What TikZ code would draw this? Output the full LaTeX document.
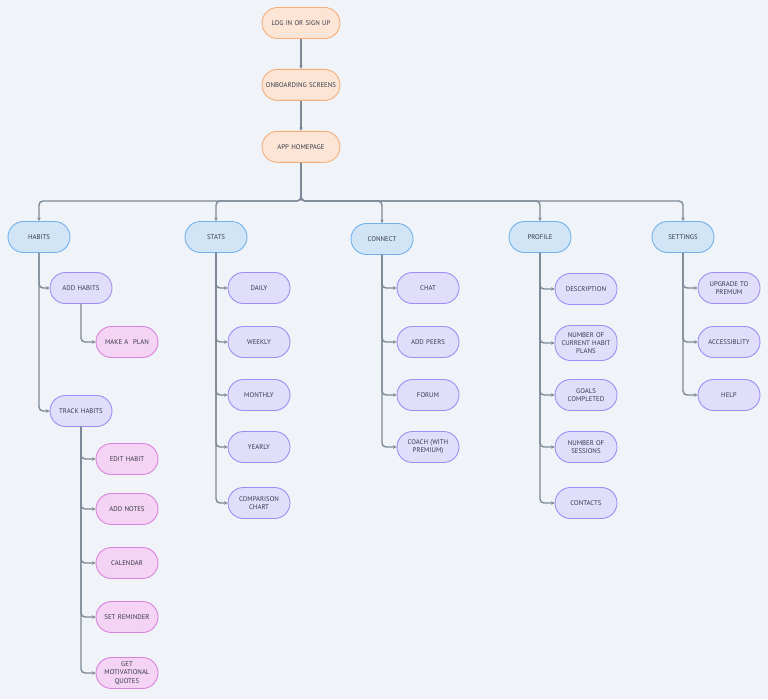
\documentclass[tikz,border=0pt]{standalone}
\usepackage{fontspec}
\setmainfont{PT Sans}
\usetikzlibrary{arrows.meta,positioning}

\definecolor{bgcol}{HTML}{F0F3F7}
\definecolor{orfill}{HTML}{FDE5D6}
\definecolor{orline}{HTML}{F4AE7A}
\definecolor{blfill}{HTML}{D2E5F7}
\definecolor{blline}{HTML}{72B2EC}
\definecolor{pufill}{HTML}{E1DEFC}
\definecolor{puline}{HTML}{9E8DF2}
\definecolor{pifill}{HTML}{F4D3F4}
\definecolor{piline}{HTML}{D883DC}
\definecolor{lncol}{HTML}{7D8996}
\definecolor{txcol}{HTML}{353B48}

\begin{document}
\begin{tikzpicture}[
x=1pt, y=-1pt,
pill/.style={
    draw,
    line width=0.9pt,
    rounded corners=15.5pt,
    minimum width=62pt,
    minimum height=31pt,
    text width=56pt,
    align=center,
    inner sep=1pt,
    text=txcol,
    font=\fontsize{6.8}{8.2}\selectfont
    },
flowbox/.style={pill, fill=orfill, draw=orline, minimum width=77pt, text width=76pt},
mainbox/.style={pill, fill=blfill, draw=blline},
subbox/.style={pill, fill=pufill, draw=puline},
leafbox/.style={pill, fill=pifill, draw=piline},
conn/.style={draw=lncol, line width=1.4pt, rounded corners=4pt, -{Stealth[length=3.5pt,width=3.5pt]}},
node distance=30pt
]

\fill[bgcol] (0,0) rectangle (768,699);
\useasboundingbox (0,0) rectangle (768,699);

% top flow
\node[flowbox] (login) at (301,23) {LOG IN OR SIGN UP};
\node[flowbox, below=of login] (onboard) {ONBOARDING SCREENS};
\node[flowbox, below=of onboard] (home) {APP HOMEPAGE};
\draw[conn] (login) -- (onboard);
\draw[conn] (onboard) -- (home);

% main sections
\node[mainbox] (habits) at (39,237) {HABITS};
\node[mainbox] (stats) at (216,237) {STATS};
\node[mainbox] (connect) at (382,239) {CONNECT};
\node[mainbox] (profile) at (540,237) {PROFILE};
\node[mainbox] (settings) at (683,237) {SETTINGS};

\coordinate (bus) at (301,201);
\foreach \sec in {habits,stats,connect,profile,settings}
    \draw[conn] (home.south) -- (bus) -| (\sec.north);

% habits
\node[subbox] (addhab) at (81,288) {ADD HABITS};
\node[leafbox] (plan) at (127,342) {MAKE A\ \ PLAN};
\node[subbox] (trackhab) at (81,411) {TRACK HABITS};
\node[leafbox] (edit) at (127,459) {EDIT HABIT};
\node[leafbox] (notes) at (127,509) {ADD NOTES};
\node[leafbox] (calendar) at (127,563) {CALENDAR};
\node[leafbox] (remind) at (127,617) {SET REMINDER};
\node[leafbox] (quotes) at (127,673) {GET\\MOTIVATIONAL\\QUOTES};

\foreach \ch in {addhab,trackhab}
    \draw[conn] (habits.south) |- (\ch.west);
\draw[conn] (addhab.south) |- (plan.west);
\foreach \ch in {edit,notes,calendar,remind,quotes}
    \draw[conn] (trackhab.south) |- (\ch.west);

% stats
\node[subbox] (daily) at (259,288) {DAILY};
\node[subbox] (weekly) at (259,342) {WEEKLY};
\node[subbox] (monthly) at (259,395) {MONTHLY};
\node[subbox] (yearly) at (259,447) {YEARLY};
\node[subbox] (compare) at (259,503) {COMPARISON\\CHART};
\foreach \ch in {daily,weekly,monthly,yearly,compare}
    \draw[conn] (stats.south) |- (\ch.west);

% connect
\node[subbox] (chat) at (428,288) {CHAT};
\node[subbox] (peers) at (428,342) {ADD PEERS};
\node[subbox] (forum) at (428,395) {FORUM};
\node[subbox] (coach) at (428,447) {COACH (WITH\\PREMIUM)};
\foreach \ch in {chat,peers,forum,coach}
    \draw[conn] (connect.south) |- (\ch.west);

% profile
\node[subbox] (descr) at (586,289) {DESCRIPTION};
\node[subbox, minimum height=35pt] (plans) at (586,343) {NUMBER OF\\CURRENT HABIT\\PLANS};
\node[subbox] (goals) at (586,395) {GOALS\\COMPLETED};
\node[subbox] (sessions) at (586,447) {NUMBER OF\\SESSIONS};
\node[subbox] (contacts) at (586,503) {CONTACTS};
\foreach \ch in {descr,plans,goals,sessions,contacts}
    \draw[conn] (profile.south) |- (\ch.west);

% settings
\node[subbox] (upgrade) at (729,288) {UPGRADE TO\\PREMUM};
\node[subbox] (access) at (729,342) {ACCESSIBLITY};
\node[subbox] (help) at (729,395) {HELP};
\foreach \ch in {upgrade,access,help}
    \draw[conn] (settings.south) |- (\ch.west);

\end{tikzpicture}
\end{document}
